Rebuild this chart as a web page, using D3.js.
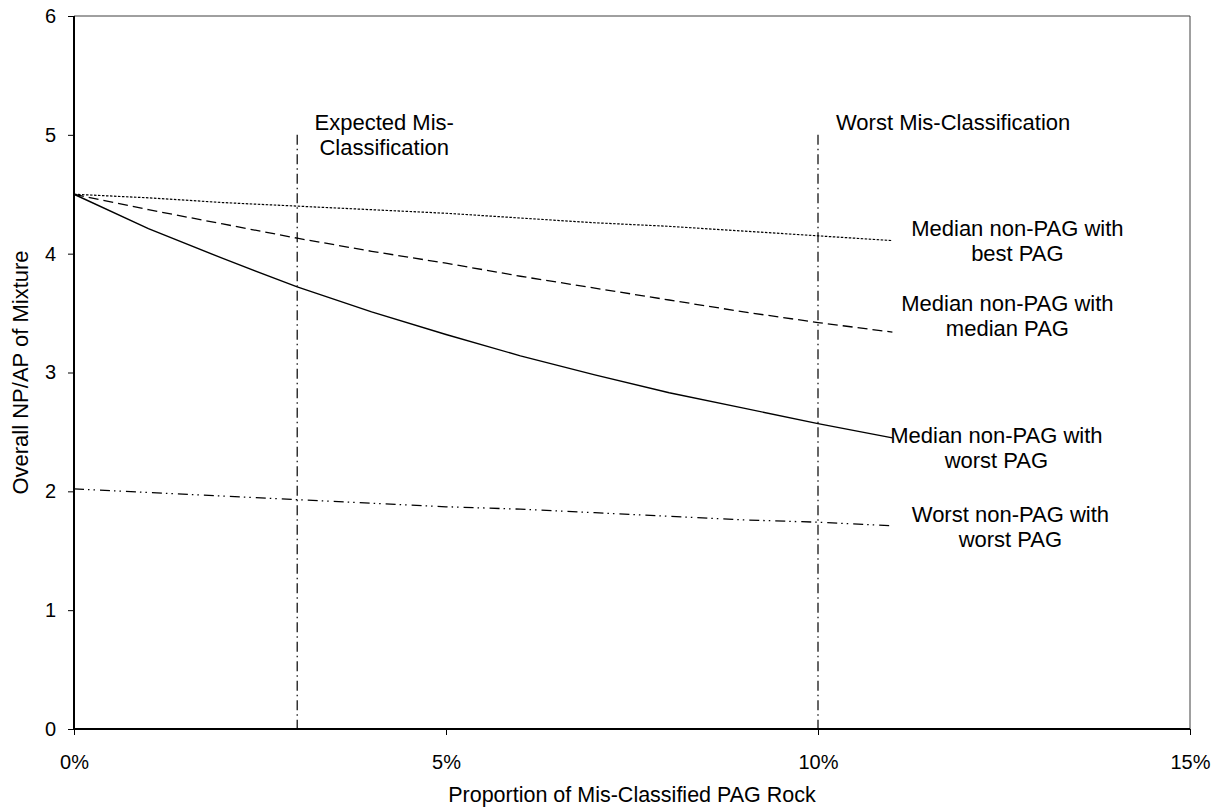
<!DOCTYPE html>
<html>
<head>
<meta charset="utf-8">
<script src="https://cdn.jsdelivr.net/npm/d3@7"></script>
<style>
  html, body { margin: 0; padding: 0; background: #fff; }
  svg { display: block; font-family: "Liberation Sans", Arial, sans-serif; }
</style>
</head>
<body>
<svg id="chart" width="1219" height="809"></svg>
<script>
// Proportion of mis-classified PAG rock (%)
const proportion = [0, 1, 2, 3, 4, 5, 6, 7, 8, 9, 10, 11];

// Overall NP/AP of the mixture for each scenario
const medianBest   = [4.50, 4.47, 4.43, 4.40, 4.37, 4.34, 4.30, 4.26, 4.23, 4.19, 4.15, 4.11];
const medianMedian = [4.50, 4.37, 4.25, 4.13, 4.02, 3.92, 3.81, 3.71, 3.61, 3.51, 3.42, 3.34];
const medianWorst  = [4.50, 4.21, 3.96, 3.72, 3.51, 3.32, 3.14, 2.98, 2.83, 2.70, 2.57, 2.45];
const worstWorst   = [2.02, 1.99, 1.96, 1.93, 1.90, 1.87, 1.85, 1.82, 1.79, 1.76, 1.74, 1.71];

const seriesNames = [
  ["Median non-PAG with", "best PAG"],
  ["Median non-PAG with", "median PAG"],
  ["Median non-PAG with", "worst PAG"],
  ["Worst non-PAG with", "worst PAG"]
];

// Reference proportions marked with vertical lines
const markerValues = [3, 10];
const markerTop = 5;
const markerNames = [["Expected Mis-", "Classification"], ["Worst Mis-Classification"]];

const xTicks = [0, 5, 10, 15];
const yTicks = [0, 1, 2, 3, 4, 5, 6];
const xTitle = "Proportion of Mis-Classified PAG Rock";
const yTitle = "Overall NP/AP of Mixture";

const margin = { left: 74, top: 16, right: 29, bottom: 80 };
const W = 1219, H = 809;
const iw = W - margin.left - margin.right;
const ih = H - margin.top - margin.bottom;

const svg = d3.select("#chart");
const g = svg.append("g").attr("transform", `translate(${margin.left},${margin.top})`);

const x = d3.scaleLinear().domain([0, 15]).range([0, iw]);
const y = d3.scaleLinear().domain([0, 6]).range([ih, 0]);

// plot frame (top and right edges)
g.append("path")
  .attr("d", `M0,0H${iw}V${ih}`)
  .attr("fill", "none").attr("stroke", "#404040").attr("stroke-width", 1);

// vertical reference lines
const markerDash = "10,4,1.5,4";
g.selectAll(".marker").data(markerValues).enter().append("line")
  .attr("x1", d => x(d)).attr("x2", d => x(d))
  .attr("y1", y(markerTop)).attr("y2", y(0))
  .attr("stroke", "#000").attr("stroke-width", 1.2)
  .attr("stroke-dasharray", markerDash);

// series lines
const styles = [
  { data: medianBest,   dash: "2.5,1.5", w: 1.2 },
  { data: medianMedian, dash: "10,5",    w: 1.3 },
  { data: medianWorst,  dash: null,      w: 1.4 },
  { data: worstWorst,   dash: "10,4,1.5,4,1.5,5", w: 1.3 }
];
const line = d3.line().x(d => x(d[0])).y(d => y(d[1]));
styles.forEach(s => {
  g.append("path")
    .datum(proportion.map((p, i) => [p, s.data[i]]))
    .attr("d", line)
    .attr("fill", "none")
    .attr("stroke", "#000")
    .attr("stroke-width", s.w)
    .attr("stroke-dasharray", s.dash);
});

// axes
const xAxis = g.append("g").attr("transform", `translate(0,${ih})`)
  .call(d3.axisBottom(x).tickValues(xTicks).tickFormat(d => d + "%").tickSize(6).tickPadding(20));
const yAxis = g.append("g")
  .call(d3.axisLeft(y).tickValues(yTicks).tickFormat(d3.format("d")).tickSize(6).tickPadding(12));

[xAxis, yAxis].forEach(a => {
  a.select(".domain").attr("stroke", "#000").attr("stroke-width", 2);
  a.selectAll(".tick line").attr("stroke", "#000").attr("stroke-width", 1);
  a.selectAll(".tick text").attr("fill", "#000").style("font-size", "20px")
    .style("font-family", "'Liberation Sans', Arial, sans-serif");
});
xAxis.select(".domain").attr("d", `M0,0H${iw}`);
yAxis.select(".domain").attr("d", `M0,${ih}V0`);

// axis titles
svg.append("text")
  .attr("x", margin.left + iw / 2).attr("y", 802)
  .attr("text-anchor", "middle").style("font-size", "21.5px")
  .text(xTitle);
svg.append("text")
  .attr("transform", `translate(28,${margin.top + ih / 2}) rotate(-90)`)
  .attr("text-anchor", "middle").style("font-size", "22px")
  .text(yTitle);

// text annotations
function multiline(cx, baseline, lines, anchor) {
  const t = g.append("text")
    .attr("text-anchor", anchor || "middle")
    .style("font-size", "22px").attr("fill", "#000");
  lines.forEach((l, i) => {
    t.append("tspan").attr("x", cx).attr("y", baseline + i * 25).text(l);
  });
}
// marker captions
multiline(x(markerValues[0]) + 87, y(markerTop) - 5, markerNames[0]);
multiline(x(markerValues[1]) + 18, y(markerTop) - 5, markerNames[1], "start");

// series captions placed beyond the line ends
const last = proportion.length - 1;
const endX = x(proportion[last]);
multiline(endX + 125, y(medianBest[last]) - 5, seriesNames[0]);
multiline(endX + 115, y(medianMedian[last]) - 21, seriesNames[1]);
multiline(endX + 104, y(medianWorst[last]) + 5, seriesNames[2]);
multiline(endX + 118, y(worstWorst[last]) - 4, seriesNames[3]);
</script>
</body>
</html>
